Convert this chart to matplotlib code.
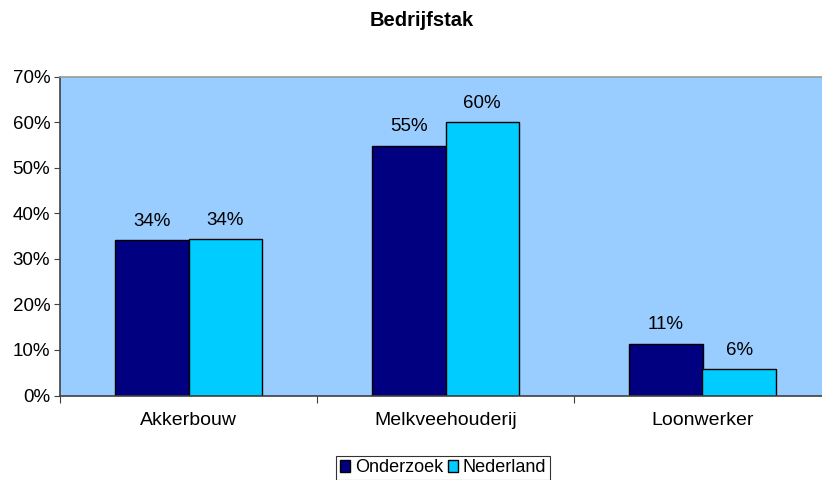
import numpy as np
import matplotlib.pyplot as plt
from matplotlib.ticker import PercentFormatter

plt.rcParams['font.family'] = ['Liberation Sans', 'DejaVu Sans']

# data (percent)
categories = ['Akkerbouw', 'Melkveehouderij', 'Loonwerker']
onderzoek = [34.1, 54.8, 11.4]
nederland = [34.3, 60.0, 5.8]
series_names = ['Onderzoek', 'Nederland']

fig = plt.figure(figsize=(8.22, 4.8), dpi=100)
# plot area runs past the right edge like in the original
ax = fig.add_axes([60 / 822, (480 - 395.5) / 480, 771 / 822, 318.8 / 480])
ax.set_facecolor('#99CCFF')

x = np.arange(len(categories))
w = 0.286
b1 = ax.bar(x - w / 2, onderzoek, w, color='#000080', edgecolor='black', linewidth=1, label=series_names[0])
b2 = ax.bar(x + w / 2, nederland, w, color='#00CCFF', edgecolor='black', linewidth=1, label=series_names[1])

for bars, vals in [(b1, onderzoek), (b2, nederland)]:
    for rect, v in zip(bars, vals):
        ax.text(rect.get_x() + rect.get_width() / 2, v + 2.3, '%d%%' % round(v),
                ha='center', va='bottom', fontsize=13.5)

ax.set_xlim(-0.5, 2.5)
ax.set_ylim(0, 70)
ax.set_yticks(range(0, 71, 10))
ax.yaxis.set_major_formatter(PercentFormatter(decimals=0))
ax.tick_params(axis='y', labelsize=13.5, length=4, color='#404040', pad=3)

# category ticks sit between the groups, labels at group centres
ax.set_xticks(np.arange(-0.5, 3.0, 1.0))
ax.set_xticklabels([])
ax.set_xticks(x, minor=True)
ax.set_xticklabels(categories, minor=True, fontsize=14)
ax.tick_params(axis='x', which='major', length=5, color='#404040')
ax.tick_params(axis='x', which='minor', length=0, pad=12)

for side in ['left', 'bottom']:
    ax.spines[side].set_color('#404040')
    ax.spines[side].set_linewidth(1.2)
ax.spines['top'].set_color('#999999')
ax.spines['top'].set_linewidth(1.2)
ax.spines['right'].set_visible(False)

fig.text(422 / 822, 1 - 21 / 480, 'Bedrijfstak', ha='center', va='center',
         fontsize=14.5, fontweight='bold')

leg = fig.legend(loc='lower center', bbox_to_anchor=(443 / 822, 0.0), ncol=2,
                 fontsize=13, frameon=True, fancybox=False, handlelength=0.6,
                 handleheight=0.6, handletextpad=0.25, columnspacing=0.25,
                 borderpad=0.2, borderaxespad=0)
leg.get_frame().set_edgecolor('black')
leg.get_frame().set_linewidth(0.8)

fig.savefig('out.png', dpi=100)
